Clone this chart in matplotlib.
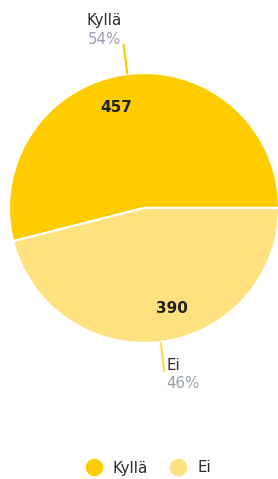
import numpy as np
import matplotlib.pyplot as plt
from matplotlib.lines import Line2D

# data
labels = ['Kyllä', 'Ei']
values = [457, 390]
colors = ['#FFCC00', '#FFE17F']
line_colors = ['#FFCC00', '#FFD95E']

W, H = 278, 479
fig = plt.figure(figsize=(W / 100, H / 100), dpi=100)
ax = fig.add_axes([0, 0, 1, 1])
ax.set_xlim(0, W)
ax.set_ylim(0, H)
ax.set_aspect('equal')
ax.axis('off')

cx, cy, R = 144, H - 208, 135
wedges, _ = ax.pie(values, colors=colors, startangle=0, counterclock=True,
                   center=(cx, cy), radius=R, frame=True,
                   wedgeprops=dict(edgecolor='white', linewidth=1.6))
ax.set_xlim(0, W)
ax.set_ylim(0, H)
ax.axis('off')

total = sum(values)
for w, lab, v, lc in zip(wedges, labels, values, line_colors):
    mid = np.deg2rad((w.theta1 + w.theta2) / 2)
    # value inside the slice
    a = mid + np.deg2rad(8.5)
    ax.text(cx + 0.77 * R * np.cos(a), cy + 0.77 * R * np.sin(a), str(v),
            ha='center', va='center', fontsize=11, color='#222222',
            fontweight='semibold')
    # leader line
    x0, y0 = cx + R * np.cos(mid), cy + R * np.sin(mid)
    x1, y1 = cx + (R + 30) * np.cos(mid), cy + (R + 30) * np.sin(mid)
    ax.plot([x0, x1], [y0, y1], color=lc, lw=1.6, solid_capstyle='butt')
    pct = f'{round(100 * v / total)}%'
    if np.sin(mid) > 0:
        tx, ha = x1 - 2, 'right'
        ax.text(tx, y1 + 24, lab, ha=ha, va='center', fontsize=10.8, color='#2b2b2b')
        ax.text(tx, y1 + 5, pct, ha=ha, va='center', fontsize=10.8, color='#9a9fb0')
    else:
        tx, ha = x1 + 2, 'left'
        ax.text(tx, y1 + 6, lab, ha=ha, va='center', fontsize=10.8, color='#2b2b2b')
        ax.text(tx, y1 - 12, pct, ha=ha, va='center', fontsize=10.8, color='#9a9fb0')

handles = [Line2D([], [], marker='o', linestyle='', markersize=11.5,
                  markerfacecolor=c, markeredgecolor=c) for c in colors]
fig.legend(handles, labels, loc='center', ncol=2, frameon=False,
           bbox_to_anchor=(145 / W, 1 - 468 / H), fontsize=10.8,
           handletextpad=0.3, columnspacing=1.0, labelcolor='#2b2b2b')

fig.savefig('out.png', dpi=100)
